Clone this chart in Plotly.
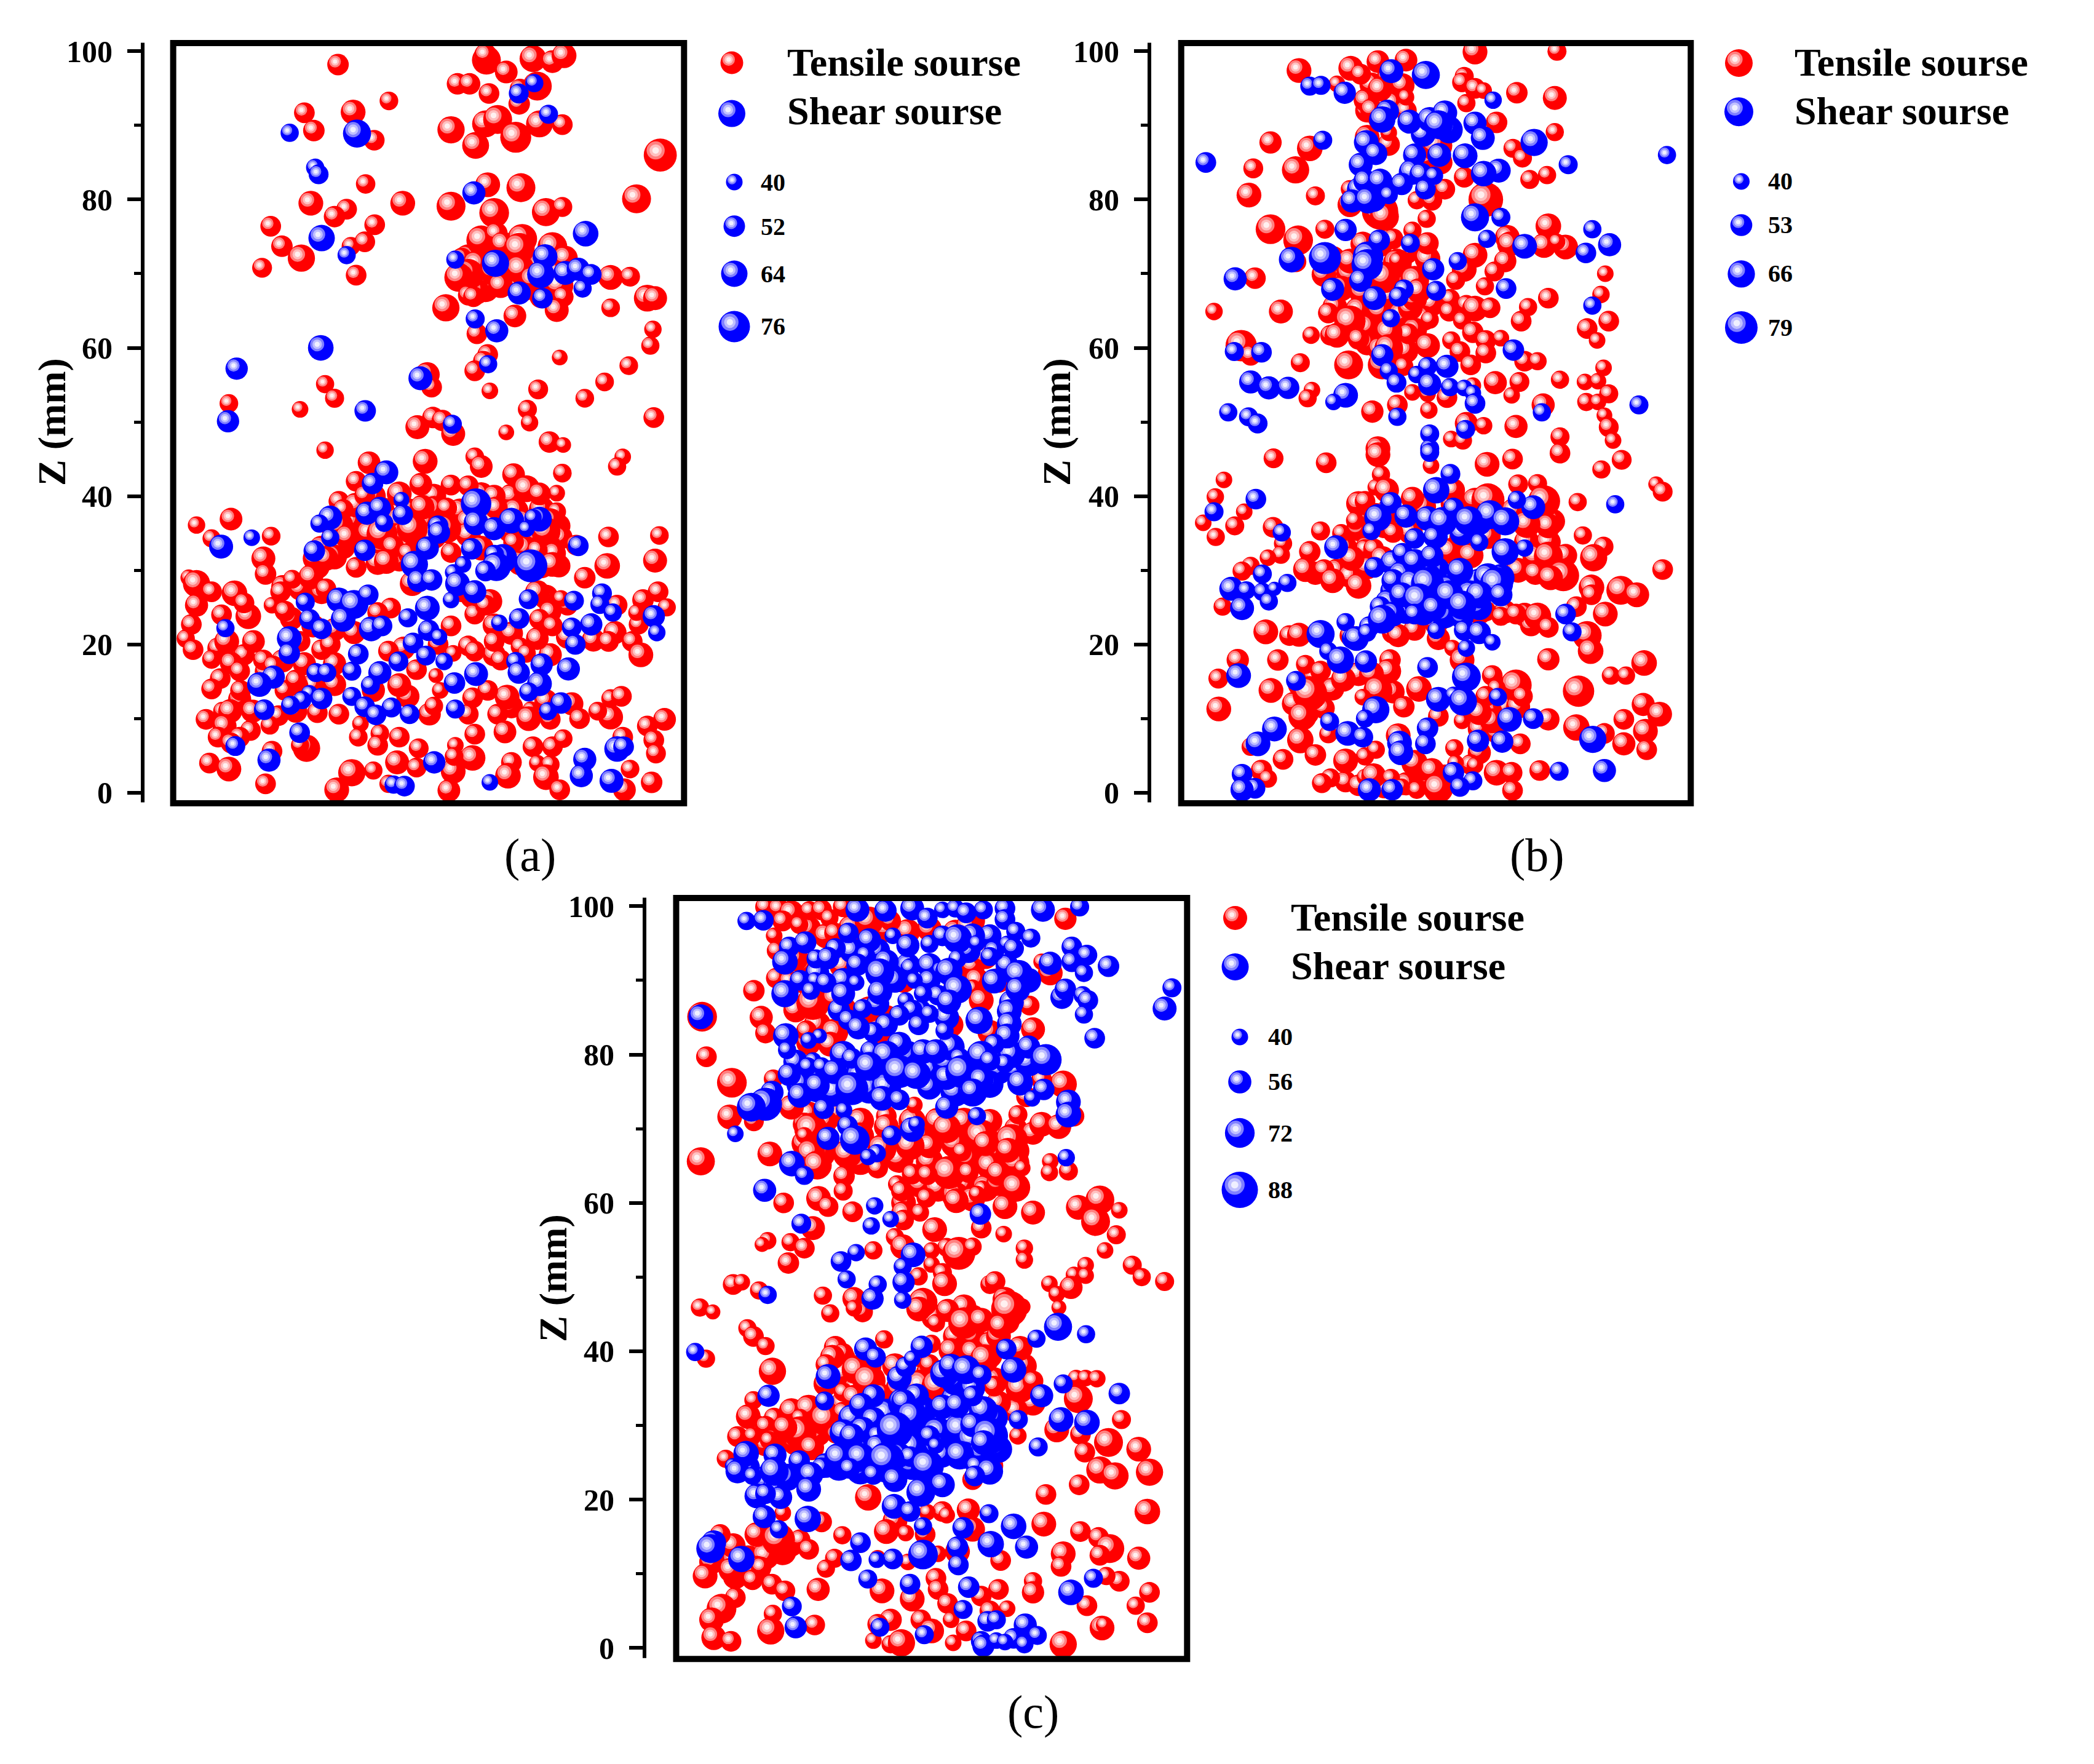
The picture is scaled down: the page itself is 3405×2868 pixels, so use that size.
import plotly.graph_objects as go

W, H = 3405, 2868
Z_TICKS = [0, 20, 40, 60, 80, 100]
TENSILE, SHEAR = "Tensile sourse", "Shear sourse"
SIZE_LABELS_A = [40, 52, 64, 76]
SIZE_LABELS_B = [40, 53, 66, 79]
SIZE_LABELS_C = [40, 56, 72, 88]

# each point: (horizontal position on the hidden axis, Z in mm, size value)
# *_core lists are the spheres buried in the dense clusters (positions estimated)
a_tensile_core = [
(780,40,60),(840,40.3,60),(920,40,60),(1030,40.2,60),(1100,40,60),(720,38,60),(800,38.2,60),(860,38,62),(920,38.3,62),
(980,38,60),(1030,38.2,60),(1110,38,62),(1170,38.2,62),(730,36.6,62),(780,36.4,60),(840,36.8,62),(900,36.6,60),
(1000,36.6,60),(1060,36.8,62),(1130,36.5,62),(1210,36,56),(690,35,60),(770,35,62),(850,34.8,62),(920,34.6,62),(1000,34.8,60),
(1150,34.8,62),(1215,34.4,56),(660,33,60),(710,33.2,60),(800,33.2,60),(860,33.6,60),(1030,33,60),(1130,33,62),(1190,33,60),
(650,30.5,60),(690,31.8,60),(790,31,58),(840,31.4,56),(1120,31,60),(1170,30.6,60),(1210,30.6,56),(570,27.8,56),(610,27.5,56),
(660,27,56),(1010,26.5,60),(1050,25.8,60),(1180,26.4,60),(1190,24.4,54),(590,23.5,56),(640,22.5,56),(690,22,56),(735,21.6,56),
(1060,22.6,56),(1100,21.5,56),(1230,21,56),(1290,20.6,56),(1340,21.6,56),(420,19.5,52),(480,18.6,52),(530,16.4,52),(570,17.8,56),
(620,17.4,56),(690,17.4,56),(850,19.5,56),(930,20,50),(1000,19.8,50),(1060,18.6,56),(1190,18.6,56),(640,14.5,56),(690,14.6,56),
(780,13.8,56),(860,13,56),(1010,12.8,50),(1100,11.6,56),(1180,12.4,56),(1240,12,56),(470,12.6,56),(500,11,56),(560,10.4,50),(600,11,56),
(1000,72,70),(1050,72,70),(1100,72,70),(1170,71,70),(1040,68,66),(1170,67,60),(1200,70,70),(1020,67.6,62),(1130,68,60),
]
a_tensile = [
(698,98.2,52),(1042,98.8,70),(1040,99.5,55),(1088,97.2,55),(1150,99,65),(1195,98.6,55),(1222,99.4,60),(1120,94.9,50),
(975,95.6,52),(1003,95.6,52),(1048,94.3,50),(1160,95.3,70),(1118,92.9,52),(816,93.3,45),(620,91.7,50),(733,91.8,60),
(642,89.3,52),(782,88,50),(960,89.4,66),(1017,87.3,65),(1040,90.2,65),(1068,90.8,70),(1110,88.4,75),(1165,90.2,65),
(1218,90.1,50),(1445,86,80),(1045,82,60),(1122,81.6,70),(762,82.1,47),(635,79.5,60),(848,79.5,60),(960,79.1,70),
(1060,78.2,72),(1180,78.3,68),(1218,79,48),(1390,80.1,70),(718,78.7,50),(690,77.7,52),(783,76.6,50),(542,76.4,50),
(568,73.7,52),(613,72.1,66),(728,73.7,45),(760,74.3,50),(522,70.8,48),(740,69.8,50),(1030,74.5,72),(1065,75.4,55),
(1080,74,60),(1125,74.7,72),(1118,73.4,75),(1195,73.6,72),(1225,72.1,60),(985,72.1,50),(1020,71.2,70),(1000,69.9,75),
(978,69.5,70),(1060,70.3,70),(1075,68.4,60),(1120,70.6,70),(1150,69.2,65),(1210,68.4,70),(1220,66.9,50),(1000,67.1,50),
(1012,66.9,50),(1330,69.5,60),(1375,69.6,48),(1415,66.7,65),(1433,66.7,58),(1330,65.4,45),(1205,65.1,58),(1108,64.3,55),
(948,65.4,66),(1020,61.9,50),(1428,62.5,42),(1422,60.3,44),(1212,58.7,38),(1045,59.1,50),(1035,58.2,50),(1015,56.9,50),
(905,56.4,60),(915,54.7,50),(1050,54.2,40),(1162,54.4,48),(1372,57.6,45),(1316,55.4,45),(1270,53.2,45),(1137,51.7,46),
(1142,49.9,42),(1430,50.6,50),(668,55.1,44),(690,53.2,46),(445,52.5,45),(610,51.7,40),(918,50.6,52),(940,50.2,52),
(882,49.3,58),(965,48.4,58),(1088,48.6,38),(1188,47.3,52),(1220,46.9,38),(668,46.2,42),
(1015,45.3,45),(1030,44,55),(1358,45.3,40),(1345,44,44),(900,44.7,60),(770,44.5,55),(1105,42.9,55),(1218,43.1,45),
(740,42,50),(890,41.6,55),(960,41.5,50),(1000,41.4,50),(1135,41,65),(1205,40.4,40),(1060,40,55),(1165,40.3,55),
(700,39.3,50),(740,38.8,60),(710,38.2,50),(760,40.1,50),(893,38.5,60),(950,38.4,50),(1065,38.4,55),(1205,37.9,45),
(1190,36.7,60),(700,36,70),(800,34.9,75),(870,35.6,75),(950,35.6,70),(1100,35.6,70),(1180,35.2,70),(720,34.5,60),
(825,33.2,55),(1105,33.8,50),(1200,32.3,55),(960,32.4,50),(1160,32.7,50),(860,32.3,50),(1250,33.4,50),(1325,34.5,50),
(1443,34.7,45),(543,34.6,45),(450,36.9,55),(370,36.1,42),(405,34.3,44),(525,31.6,58),(530,29.5,52),(1322,30.6,62),
(1433,31.3,58),(645,31.6,60),(670,31.6,60),(740,30.4,50),(810,31.2,60),(1195,30.8,60),(1270,29,52),(352,29,40),
(370,28.2,66),(405,27.1,50),(458,26.9,62),(370,25.3,56),(490,23.8,62),(480,25.6,50),(592,28.8,45),(635,29.1,60),
(565,27.1,50),(670,27.5,50),(545,25.3,40),(575,24.5,50),(428,24,50),(358,22.7,50),(345,20.8,44),(362,19.3,50),
(440,20.4,60),(502,20.4,55),(405,18,46),(450,17.5,54),(470,16.4,50),(425,15.4,50),(405,14,50),(472,13.8,50),
(525,17.9,50),(548,17.1,50),(610,20.4,50),(660,19.3,50),(680,20,50),(575,13.8,50),(605,14.5,50),(430,11,45),
(448,11,58),(392,9.9,50),(435,9,58),(420,7.5,50),(495,8.4,50),(540,9.1,45),(470,7.5,50),(450,6.7,50),(400,4,50),
(445,3.2,60),(545,5.6,50),(530,1.2,50),(625,6,66),(610,6.4,44),(650,10.8,50),(700,10.6,50),(750,9.3,40),(745,7.5,45),
(795,8,45),(790,6.4,50),(840,7.5,50),(835,4.1,58),(885,6,48),(880,3.4,48),(780,3,44),(730,2.7,66),(695,0.4,60),
(815,1.2,44),(965,2.9,60),(955,0.3,55),(1010,4.7,62),(1015,7.9,50),(970,6.4,40),(967,4.9,45),(1000,10.6,50),(910,10.6,55),
(920,11.7,45),(1090,12.9,60),(1045,13.8,50),(1068,10.6,50),(1085,8.2,55),(1145,11.2,40),(1140,10,60),(1190,9.9,50),
(1258,10,50),(1330,10.2,60),(1300,11,45),(1330,12.7,45),(1355,13,50),(1150,6.2,50),(1195,6.2,50),(1220,7.3,45),
(1160,4,40),(1190,3.8,45),(1100,4.1,50),(1092,2.3,62),(1180,2.1,62),(1212,0.4,50),(1362,0.4,55),(1358,7.5,50),
(1415,9,50),(1455,9.9,55),(1430,7.1,50),(1435,5.3,48),(1425,1.4,52),(1375,3.2,45),(1165,23.4,50),(1195,22.5,50),
(1230,25.3,50),(1160,20.8,55),(1060,20.4,50),(1015,19.1,50),(960,22.5,50),(1015,24.1,50),(1040,25.3,50),(1120,19.7,45),
(1135,18.8,45),(1075,17.9,50),(1380,20.4,50),(1400,18.6,60),(1325,20.4,50),(1395,22.7,48),(1405,26,52),(1440,27.1,50),
(1460,25,44),(1390,24.3,40),(1345,25.3,50),(1215,26.2,40),(985,27.1,50),(820,24.9,50),(790,24.3,50),(815,19.1,50),
(880,16.6,50),(840,14.5,58),(925,15.8,36),(935,13.8,40),(965,18.8,40),(600,15.2,50),(1160,27,60),(870,28.2,60),
]
a_shear = [
(586,89,44),(742,88.9,68),(645,84.3,44),(653,83.4,48),(1153,95.7,44),(1117,94.3,48),(1186,91.5,46),(1013,80.9,56),
(1272,75.4,62),(660,74.8,64),(718,72.5,44),(970,71.9,44),(1063,71.4,66),(1178,72.3,60),(1168,69.9,66),(1225,70.1,58),
(1255,70.6,56),(1285,69.9,50),(1265,68,44),(1118,67.4,56),(1172,66.7,50),(1016,63.9,46),(1066,62.3,56),(658,60,62),
(463,57.2,54),(1046,57.8,44),(889,55.9,58),(761,51.5,52),(443,50.1,54),(963,49.7,46),
(810,43.2,58),(778,41.7,52),(1018,39,74),(845,39.5,38),(680,37.1,58),(655,36.3,44),(765,37.7,56),(795,38.4,54),
(848,37.5,50),(805,36.4,44),(680,34.4,44),(930,36,50),(932,35.1,54),(1018,36.4,60),(1060,35.6,56),(1100,36.7,62),
(1165,36.9,60),(1150,37.1,42),(1135,35.6,40),(498,34.4,40),(427,33.2,58),(643,32.6,52),(760,32.7,52),(905,33,56),
(1008,32.9,52),(1255,33.3,50),(875,30.8,66),(1080,31.6,70),(1145,30.6,80),(1060,32.1,48),(1065,30.5,70),(988,30.8,40),
(965,29.7,40),(1040,29.9,50),(885,28.6,56),(915,28.7,52),(975,28.2,60),(1015,27.1,56),(960,26,40),(1140,26.1,48),
(700,26,60),(735,25.4,70),(768,26.7,50),(622,25.7,46),(710,23.4,60),(632,23.4,50),(660,22.1,50),(905,24.9,60),
(860,23.6,46),(1245,25.9,48),(1310,26.9,48),(1305,25.4,46),(1335,24.3,44),(1118,23.5,50),(1072,22.9,40),(775,22.1,60),
(800,22.5,50),(1240,22.3,48),(1285,22.7,54),(1430,23.8,54),(1437,21.6,42),(437,22.2,44),(908,21.9,52),(932,21,40),
(872,20.2,50),(1248,20,50),(585,20.8,60),(585,18.8,52),(745,18.7,50),(902,18.5,48),(838,17.7,48),(944,17.7,42),
(1110,17.7,46),(1170,17.3,54),(1232,16.7,56),(1117,16.2,54),(1165,14.7,60),(795,16.2,56),(730,16.4,46),(1018,16,58),
(968,14.8,52),(647,16.2,46),(672,16.2,46),(548,15.6,56),(516,14.6,60),(773,14.5,46),(1140,13.6,46),(1215,12.1,52),
(730,13,46),(632,13.4,40),(660,12.7,52),(615,12.5,44),(588,11.8,46),(527,11.2,50),(760,11.6,50),(822,11.5,48),
(786,10.5,50),(864,10.6,48),(970,11.3,46),(1185,11,44),(609,8.1,50),(460,6.3,48),(538,4.4,56),(921,4.1,54),
(1270,4.5,56),(1345,5.9,62),(1360,6.2,50),(1262,2.3,56),(1332,1.6,58),(827,1.1,44),(852,0.9,50),(1050,1.4,40),
]
b_tensile_core = [
(660,72,62),(700,70,66),(740,72,66),(770,74,62),(830,73,62),(880,72,62),(680,68,62),(730,67.5,66),(790,67,66),(840,67.4,66),
(890,66,62),(665,65.5,60),(720,65,66),(770,65,66),(820,64.4,66),(870,64,62),(740,62.8,62),(800,60.5,62),(850,62.4,60),
(740,60.6,58),(830,59.6,60),(770,59.8,60),(740,92,58),(770,91,60),(800,93,56),(830,92,52),(750,95.5,58),(790,96.5,58),
(880,85.6,58),(910,85,58),(790,87.4,54),(720,39,60),(760,37.4,60),(790,38,60),(870,38.6,62),(940,39,62),(990,39.4,62),(1080,38,62),
(1130,37.4,62),(1170,36.6,60),(720,35.6,60),(780,36,60),(840,35.2,60),(960,34.4,62),(1020,34.6,62),(1110,33.8,62),(1160,33.8,60),
(690,33,58),(740,33,58),(930,32.6,62),(980,32,62),(1130,31.8,62),(1200,32,56),(620,29.6,56),(670,30,56),(700,29.2,56),(740,30.4,58),
(1090,30,60),(1130,29.6,56),(1000,24.3,58),(1060,24.4,56),(1105,24,58),(1120,22.6,54),(900,22.8,56),(800,21.6,54),(850,22,54),
(585,14.6,60),(620,15.6,60),(660,14,56),(720,16,58),(760,15.4,58),(800,13.6,56),(570,12,58),(600,10.8,60),(640,11.4,52),(1000,8.6,56),
(1040,9,56),(1000,5.4,56),(980,3.8,50),(1040,8,50),(880,2,58),(920,2.2,58),(860,3,54),(690,1.5,52),(720,1,52),(780,0.8,56),(830,1.2,56),
(1060,11.6,60),(1090,11.6,58),(1025,11,58),
]
b_tensile = [
(582,97.4,60),(702,97.7,60),(725,96.9,50),(765,98.6,55),(830,98.8,55),(990,99.9,60),(1180,100,46),(670,95.6,40),
(965,96.6,46),(960,95.8,48),(990,95,50),(1010,94.7,40),(822,95.4,58),(770,94.9,60),(830,93.8,40),(1087,94.4,52),
(1175,93.7,58),(735,93.4,55),(750,92.1,55),(970,93,44),(1040,90.4,52),(1175,89.1,44),(740,88.4,60),(790,89,40),
(516,87.7,54),(607,86.9,62),(900,87.3,78),(1078,86.9,46),(1100,85.6,46),(476,84.2,48),(574,84,66),(965,83,50),
(1117,82.7,46),(1157,83.3,44),(466,80.6,60),(620,80.5,46),(920,81.4,50),(700,81.4,44),(1015,80,84),(855,79.9,44),
(890,79.9,50),(700,79.3,60),(770,78.4,88),(780,77.7,70),(878,77.4,44),(516,76,72),(580,74.5,72),(642,76,46),
(845,75.8,44),(1160,76.4,62),(1065,74.9,60),(1070,74,60),(1150,73.8,60),(1200,73.6,60),(1180,74.3,40),(880,74.1,54),
(730,74,60),(800,74.7,50),(990,72.5,60),(1060,71.7,54),(575,71.6,50),(1035,70.3,48),(480,69.4,52),(1292,70,40),
(700,71.7,60),(810,71.4,70),(640,69.9,60),(780,69.5,76),(850,69.1,70),(965,70.6,60),(945,69.1,46),(1013,68.3,44),
(810,71.8,40),(1282,67.2,42),(1160,66.7,50),(932,66.6,48),(970,65.8,48),(990,65.3,62),(1025,65.4,50),(930,64.9,48),
(1113,65.5,44),(385,64.9,42),(540,64.9,58),(1097,63.6,50),(1300,63.6,50),(885,63.8,44),(650,64.7,50),(700,63.6,76),
(840,65.4,60),(850,66.6,60),(860,67.7,60),(960,63.7,44),(985,62.1,52),(1250,62.6,50),(1273,61,40),(835,61.9,50),
(610,61.7,42),(655,61.7,50),(670,61.7,60),(720,61.2,52),(790,62.1,66),(790,59.9,70),(880,60.3,60),(935,61,44),
(1015,61,50),(1050,61.3,40),(1015,59.3,50),(448,60.3,76),(470,59,50),(775,57.7,70),(955,59.5,50),(697,57.7,70),
(585,58,46),(825,57.5,46),(980,57.7,50),(1105,58.2,50),(1135,58.2,44),(1288,57.3,40),(1187,55.7,44),(1245,55.4,40),
(1275,55.5,40),(1093,55.4,48),(1037,55.3,56),(1075,53.6,40),(985,54.9,40),(612,54.3,40),(602,53.2,44),(845,54,40),
(925,53.3,50),(880,53.8,40),(1300,53.8,46),(1248,52.7,44),(1275,52.7,40),(1148,52.3,56),(810,52.3,50),(752,51.4,54),
(883,51.6,42),(1290,50.9,38),(1300,49.3,48),(970,49.8,56),(1010,49.5,42),(1085,49.4,56),(1187,48,46),(1310,47.5,40),
(935,47.7,40),(962,47.5,44),(765,46.4,60),
(523,45.1,48),(645,44.5,50),(765,45.6,60),(1018,44.3,60),(1077,45,50),(1187,45.8,50),(1330,44.9,48),(1283,43.6,44),
(888,44.1,40),(408,42.2,40),(388,39.9,42),(772,42.9,44),(1090,41.6,48),(1135,41.7,46),(1410,41.6,38),(1425,40.6,48),
(1228,39.2,44),(760,41.2,40),(785,40.8,60),(845,39.7,56),(1020,39.5,80),(1150,39.3,78),(735,39.3,50),(712,36.7,44),
(940,40.8,56),(455,37.9,40),(433,36,46),(360,36.4,40),(522,35.8,50),(389,34.5,44),(632,35.3,46),(680,35,44),
(1240,34.7,44),(1160,36,60),(1110,36.2,66),(800,35.1,50),(1288,33.2,48),(1265,31.7,66),(1425,30.1,50),(1160,31.9,70),
(607,32.5,52),(545,33.6,44),(735,32.9,46),(755,32.9,50),(775,31.6,60),(540,32.1,44),(705,31.6,60),(510,31.7,40),
(470,30.6,44),(450,29.9,46),(597,30.1,60),(640,30.1,50),(660,28.6,60),(720,27.9,62),(1195,29.3,76),(1165,29,60),
(1260,27.7,62),(1260,26.7,50),(1328,27.3,70),(1365,26.7,60),(1225,25.1,50),(1292,24.1,60),(405,25.1,44),(505,21.7,60),
(560,21.2,50),(582,21.3,58),(700,21.2,50),(812,21.2,56),(905,20.8,56),(1015,24.5,50),(1050,23.8,46),(1085,24.1,50),
(1135,23.8,66),(1160,22.3,50),(1250,21.2,70),(1258,19.1,62),(1160,18,54),(938,19.5,40),(960,17.9,60),(1382,17.5,62),
(440,17.9,54),(533,17.9,52),(395,15.4,48),(597,17.3,46),(632,16.4,50),(517,13.8,60),(607,13.4,84),(793,17.9,52),
(790,16.4,60),(750,16,60),(685,15.3,60),(765,13.8,70),(730,12.9,40),(860,14,62),(1030,15.8,50),(1085,14.5,76),
(1040,14.1,44),(1100,13,50),(1015,13,50),(1230,13.7,76),(1305,15.8,44),(1340,15.8,44),(396,11.3,60),(825,11.6,52),
(1380,11.9,56),(1418,10.6,60),(905,10.3,50),(1160,9.9,54),(1030,9.7,60),(1000,10.8,60),(590,10.3,68),(1225,8.8,64),
(1335,9.9,50),(1385,8.3,60),(1290,8,50),(585,7.1,64),(960,9.7,40),(650,7.9,44),(1335,6.6,56),(1388,5.8,50),
(1095,6.6,50),(942,6,44),(812,7.7,60),(470,6.2,44),(620,5.1,52),(545,4.5,50),(690,4.3,60),(735,4.9,44),(760,5.8,44),
(850,4,64),(890,3,60),(495,3,52),(510,1.9,44),(1140,3,50),(1040,2.7,62),(1075,2.7,52),(945,4,40),(990,3.7,40),
(655,2,46),(635,1.3,48),(735,2.1,40),(755,2.3,60),(795,2,44),(855,0.4,44),(905,0.6,72),(1077,0.3,50),(820,0.8,40),
]
b_shear_core = [
(800,31,62),(850,30.6,66),(900,30,66),(950,28.6,66),(1000,28.4,66),(1050,29,66),(820,29.4,66),(880,29,70),(930,27.4,70),(980,26.8,66),
(1040,27.6,66),(800,27.2,62),(840,26.6,70),(890,26.4,70),(940,25.6,70),(1000,25,62),(790,25.6,66),(830,24.6,66),(870,24.4,66),(920,24,66),
(960,23.6,56),(780,24,66),(900,34.5,56),(880,37,60),(1000,36.4,60),(960,35,60),(745,22.4,50),
(745,82,56),(755,80,60),(720,81.4,56),(850,86,56),(870,88.8,60),(930,89.4,66),
]
b_shear = [
(796,97.3,58),(876,96.8,68),(607,95.3,46),(633,95.4,46),(688,94.4,54),(1032,93.4,42),(787,91.9,56),(775,90.8,64),
(838,90.5,58),(885,90.8,60),(920,91.7,60),(905,90.1,70),(990,90.3,56),(1008,88.3,58),(1127,87.7,66),(637,88,46),
(738,87.7,60),(760,86.2,56),(907,86,58),(967,85.9,60),(1206,84.7,46),(1435,86,44),(366,85,50),(725,84.7,58),
(1045,83.9,58),(1010,83.5,62),(843,83.7,62),(865,83.4,56),(895,83.2,44),(735,82.5,56),(770,82.5,60),(820,82.1,54),
(875,81.4,50),(790,80.6,44),(705,79.8,56),(742,79.9,64),(990,77.6,68),(1050,77.6,46),(690,75.9,54),(1262,76,44),
(768,74.5,52),(1018,74.7,44),(840,74.1,46),(1105,73.7,60),(1302,73.9,56),(1247,72.8,50),(565,71.9,62),(642,72.1,78),
(742,72.3,74),(740,71.2,76),(893,70.6,54),(950,71.7,44),(434,69.3,56),(725,69.1,56),(660,67.9,56),(825,67.9,48),
(813,66.9,48),(900,67.7,48),(1062,68,50),(757,66.7,58),(1262,65.7,44),(795,64,44),(1079,59.7,52),(775,59,54),
(495,59.4,50),(432,59.5,46),(925,57.5,56),(880,57.5,46),(790,56.9,44),(855,56.4,42),(808,55.3,48),(885,55.1,56),
(932,54.7,44),(470,55.4,56),(512,54.6,56),(557,54.6,54),(690,53.6,60),(662,52.7,40),(965,54.6,40),(985,53.9,40),
(990,52.5,50),(1370,52.3,46),(1145,51.3,44),(418,51.3,44),(465,50.7,46),(486,49.8,48),(810,50.7,44),(968,49,46),
(885,48.4,46),(885,46.4,46),
(885,45.9,46),(933,43,48),(900,40.8,64),(482,39.6,50),(385,37.9,46),(1315,38.9,44),(1125,38.5,58),(1087,39.5,44),
(795,39.1,52),(765,37.1,66),(830,37.3,56),(750,35.3,44),(915,36.6,70),(940,38.4,50),(1025,37.5,70),(975,36.7,70),
(1060,36.6,68),(1000,33.8,44),(542,35.1,44),(850,34.3,50),(895,34.5,52),(1105,33,42),(1060,32.5,66),(668,33.1,58),
(822,32.3,50),(850,31.2,60),(890,31.9,56),(757,30.4,50),(497,29.5,46),(955,29.9,64),(1020,29,70),(1040,28.2,80),
(800,28.6,56),(845,28.2,70),(880,28.2,80),(555,28.3,44),(425,27.5,58),(460,27.3,44),(497,27.1,44),(525,27.5,34),
(1000,26.7,66),(1050,26.7,56),(930,26.7,70),(820,26.7,60),(860,26,80),(960,25.3,70),(450,24.9,58),(512,25.8,44),
(770,25.1,50),(800,24.1,60),(775,23.4,70),(850,24.1,50),(895,24.9,60),(1200,24.1,50),(690,23,44),(1215,21.7,46),
(632,21.4,68),(705,20.8,50),(715,20.8,60),(740,21.6,44),(900,21.9,42),(965,21.9,50),(1000,21.6,56),(1030,20.3,40),
(970,19.5,42),(650,19.1,44),(678,17.9,66),(737,17.7,54),(880,16.9,50),(442,15.8,60),(575,15.1,48),(970,15.6,70),
(905,12.6,60),(940,13.2,40),(962,12.3,68),(1043,12.9,44),(760,11.2,66),(735,10,44),(653,9.6,46),(525,8.6,60),
(1070,9.9,60),(1125,10,50),(695,8,60),(730,7.5,50),(880,8.7,52),(815,6.7,60),(818,5.4,60),(875,6.6,50),(997,7,54),
(1053,6.9,54),(487,6.6,60),(1263,7.2,66),(1185,2.9,46),(1290,3,56),(450,2.5,50),(480,0.6,50),(450,0.4,56),(940,2.7,52),
(985,1.6,46),(955,0.8,48),(745,0.4,56),(798,0.4,52),
]
c_tensile_core = [
(620,97,60),(660,96,60),(720,97,66),(800,97,66),(850,96.6,60),(960,96.5,60),(1000,98,60),(570,94,60),(610,92,60),(700,92,66),(840,90,60),
(1000,92,60),(600,90,60),(640,88,66),(700,86,66),(760,86,66),(800,85,60),(960,90,60),(1010,90,60),(590,86,60),(640,84,66),(620,81.6,60),
(680,83,66),(1040,83,60),(780,86,60),(950,84,60),(1060,90,60),(620,72,60),(680,72,62),(740,71,66),(860,71,66),(920,71,66),(980,71,66),
(610,68,62),(660,68.6,66),(740,69,66),(820,68.6,70),(880,69,70),(960,68,70),(1050,67,70),(1100,67,66),(650,66.6,66),(740,65.6,66),
(830,66,70),(900,65.6,66),(990,66,66),(1040,65,66),(1100,65.4,66),(880,62.5,66),(920,62,66),(980,62.4,70),(1030,62,66),(1060,62.6,60),
(960,61,66),(1000,60.5,60),(840,60,60),(840,58.6,60),(610,70.6,56),(660,71,56),(1100,70,56),(1140,69.4,56),
(700,39,60),(760,39,66),(820,38,62),(950,37,66),(1040,39.4,60),(1120,38,60),(700,37,60),(760,38,60),(830,35,66),(900,37,66),(980,34,66),
(1050,36,66),(1110,34,66),(1140,33,60),(1100,32,60),(1060,33,60),(700,33,60),(730,35,60),(790,33,60),(660,35.6,60),(640,32,62),
(600,30,70),(640,29,66),(560,29,66),(590,27.8,66),(520,27.4,56),(480,27,50),(500,30,50),(580,32,60),(680,31,60),
(960,42,60),(1000,42,60),(1040,41,60),(1080,44,60),(1060,42,60),(910,44.6,60),(1000,44.6,60),(880,46,60),(980,46,60),
(450,11.8,66),(480,12,66),(520,12.4,66),(560,13,66),(500,10.6,66),(450,9.6,60),(580,14,60),
]
c_tensile = [
(520,99.9,50),(550,99.7,50),(580,99.1,60),(622,99.4,46),(650,99.5,50),(668,98.4,44),(700,99.9,50),(560,98,50),
(598,97.5,44),(760,98,70),(810,98,50),(1215,98.3,54),(680,96.4,50),(540,96,40),(900,96.9,60),(990,97.3,60),
(545,94,46),(1030,93.2,60),(590,92.9,60),(1160,92.5,40),(1180,91,60),(545,90.3,50),(575,89.9,50),(493,88.6,52),
(1000,89,40),(630,86.9,80),(680,87.6,60),(1020,87.3,60),(1132,86.6,48),(510,85,56),(520,82.9,50),(373,85.1,72),
(615,83.2,50),(670,81.4,60),(785,83.2,60),(1140,83.4,58),(383,79.7,50),(442,76.2,72),(538,76.7,46),(1210,76,66),
(1160,76.6,50),(1125,74.3,50),(437,71.6,60),(493,71,48),(580,72.9,60),(865,73.2,40),(800,71.7,50),(1105,71.9,46),
(1160,70.6,60),(1200,70.3,60),(1235,71.7,50),(625,69.9,80),(610,69.1,40),(800,70.3,60),(940,70,70),(1040,71,60),
(1020,69,80),(1090,68.4,80),(900,67.7,60),(855,67.7,70),(790,67.3,70),(710,66.6,70),(625,66.7,70),(530,66.6,60),
(1082,67.1,60),(975,66.9,46),(1030,68,60),(370,65.6,68),(640,65.1,70),(780,64.7,50),(1180,65.6,40),(1222,64.3,46),
(1178,64.1,42),(1115,64.7,40),(945,64.1,80),(990,64.1,50),(1060,64,60),(860,63.9,50),(702,63.6,52),(895,63.8,50),
(1100,62.1,70),(825,62.5,44),(835,61.6,50),(700,61.6,46),(1022,61.9,40),(893,60.7,48),(962,60.3,60),(1010,61.2,40),
(1075,59.5,60),(643,60.6,60),(665,59.5,50),(562,60,50),(722,58.8,50),(1140,58.7,58),(1245,59.4,60),(1295,60.4,70),
(1340,59,40),(1285,57.5,70),(878,58.7,44),(840,57.7,50),(630,56.6,58),(1020,56.6,50),(912,56.4,60),(1072,55.8,40),
(1333,55.7,46),(525,54.9,42),(512,54.4,36),(578,54.7,44),(610,53.9,50),(820,55.4,44),(838,54.1,60),(770,53.6,44),
(905,53.6,40),(940,54,46),(968,53.2,80),(1000,54.1,44),(1120,53.9,42),(1120,52.3,42),(1307,53.6,40),(573,51.9,52),
(905,51.7,40),(1370,51.6,46),(1262,51.6,40),(1392,50,44),(1445,49.4,46),(875,50.1,44),(930,50.6,46),(935,49.1,60),
(445,49,50),(465,49.3,40),(1040,49,46),(1052,49.4,50),(1178,49.1,40),(1235,50.3,40),(1262,50.2,40),(1228,48.6,56),
(1195,47.7,40),(505,48.2,44),(653,47.5,44),(725,47.1,56),(1075,47,60),(1115,46,40),(885,46.6,70),
(368,45.9,44),(398,45.3,36),(670,45.1,44),(745,45.3,50),(725,45.8,40),(875,45.7,60),(942,45.5,56),(1085,45.7,88),
(1200,45.9,36),(915,43.8,44),(980,43.8,76),(1020,44.2,60),(1065,43.4,60),(478,43.1,44),(492,42,50),(520,40.7,44),
(382,39,44),(795,41.6,44),(682,40.5,56),(700,39.7,50),(675,39.2,60),(660,38.2,50),(905,41,44),(950,40.1,60),(1000,39.9,60),
(1028,39,70),(1110,40.4,60),(536,37.3,66),(730,37.5,70),(760,36,80),(875,39,40),(900,38.2,50),(1240,36.4,40),(1262,36.4,40),
(1288,36.3,42),(1245,33.6,70),(1050,35.3,50),(1110,35,70),(1140,36,50),(700,34.5,46),(725,33.8,60),(790,34.5,40),(880,35.3,80),
(920,35.3,80),(492,33.4,44),(620,32.3,66),(660,30.8,80),(700,31.8,50),(480,31.2,60),(540,31,50),(520,29.9,50),(600,31,44),
(600,29,80),(540,27.9,60),(565,29.7,60),(1345,30.8,46),(1105,28.6,42),(455,28.5,50),(490,28.6,44),(682,28.8,44),
(528,28,44),(1195,29.4,60),(1250,28.8,50),(1315,27.7,70),(1260,26.4,50),(1385,26.8,60),(627,27,60),(428,25.5,44),
(1295,24,66),(1330,23.2,66),(1410,23.7,66),(1047,24.6,50),(1000,22.7,50),(1247,22,50),(1170,20.7,50),(758,20.3,64),
(1405,18.4,62),(1165,16.7,60),(930,18.4,50),(990,18.6,56),(895,18.3,40),(650,17,50),(560,18.2,40),(940,17.9,40),
(820,17.1,60),(800,15.7,60),(845,15.5,40),(890,15.3,50),(1000,16,60),(698,15.2,44),(1250,15.7,50),(1292,14.9,50),
(1318,13.4,70),(500,15.3,60),(445,13.8,60),(415,15.3,50),(600,14.6,50),(620,13.3,50),(550,14.6,80),(1210,12.7,60),
(1385,12.1,56),(1295,12.5,50),(680,12.1,46),(1205,11,50),(965,13,60),(395,11.6,60),(510,10.9,50),(380,9.7,60),
(440,10.5,60),(660,10.7,44),(780,12.1,40),(920,12.7,40),(850,11.6,40),(1065,11.8,50),(490,9.2,50),(535,8.6,50),
(565,7.7,50),(642,7.9,56),(1140,9,44),(1140,7.5,54),(1340,9,50),(1310,9.7,44),(915,9.4,50),(920,7.9,50),(1060,7.9,50),
(790,7.7,60),(1410,7.5,50),(1265,5.7,50),(860,6.6,60),(942,6,50),(1020,7,50),(1080,5.3,40),(450,6.8,50),(418,5.3,72),
(395,3.8,60),(537,4.6,44),(1378,5.7,44),(1405,3.4,50),(532,2.3,66),(634,3.1,50),(400,1.4,60),(440,0.9,50),(810,3.8,54),
(780,3.2,50),(880,3.8,50),(905,2.3,60),(950,3.8,40),(985,2.3,50),(770,1,40),(810,0.5,44),(835,0.7,66),(955,0.7,40),
(1210,0.5,66),(1300,2.7,60),(1305,3.1,40),(1040,5,50),
]
c_shear_core = [
(620,78,70),(660,77,72),(700,78,72),(740,77,72),(780,77,76),(820,78,76),(860,78,76),(900,78,72),(940,79,72),(980,78,76),(1020,78,76),(1060,78,72),
(600,76,66),(640,75.5,70),(680,75,72),(760,75.4,72),(800,75.6,72),(900,75.6,60),(960,75,72),(1000,75,72),(1040,76,66),(1100,78,66),(1130,79,70),
(700,80,66),(850,80,66),(950,81,66),(1090,80,66),(590,79,60),
(640,91,58),(700,90,60),(720,94,60),(780,94,60),(850,92,60),(900,92,60),(990,94,60),(1040,96,56),(1000,96,60),(780,86.8,56),(820,90,60),(900,90,54),
(940,85,60),(920,88,50),(800,84,56),(1080,92,56),(1050,94,50),(1130,90,60),(1090,87,60),(690,86,54),(770,83,50),(880,86,50),(600,90,50),
(760,31,70),(800,31.5,76),(840,33,76),(880,32,76),(960,33.5,70),(1000,31.5,72),(720,31,66),(700,29,66),(760,29,72),(800,29,76),(850,28.5,80),(920,29,76),
(970,29.5,76),(1000,28,76),(740,26.5,72),(800,27,76),(860,27,76),(920,27,72),(980,26,66),(690,24.5,70),(740,24,70),(800,24.4,76),(860,24.6,70),(930,26,60),
(1030,31,66),(1060,26.8,66),(1020,26.4,62),(600,24,60),(660,24.6,60),(520,22.6,70),(570,23,66),(480,24.4,56),(540,21.6,56),
(1050,31,66),(960,36,70),(1000,35,60),(870,34,60),(770,34,56),
]
c_shear = [
(476,98,44),(515,98.1,50),(733,99.5,58),(798,99.4,54),(860,99.7,58),(895,98.4,50),(930,99.5,40),(960,99.7,44),
(985,99.1,50),(1025,99.5,46),(1075,99.7,50),(1075,98.2,50),(1163,99.5,58),(1248,99.9,46),(712,96.4,50),(760,95.4,58),
(575,94.5,50),(612,95.1,54),(815,96,40),(850,94.7,56),(900,94.9,44),(930,96,50),(965,95.6,70),(1010,95,40),
(1100,96.6,46),(1135,95.7,46),(1080,94.9,40),(1095,94.3,50),(682,94.3,50),(1230,94.5,50),(565,92.5,62),(637,92.9,46),
(665,93,54),(752,93.4,46),(1040,93.2,46),(965,92.9,44),(1180,92.3,56),(1265,93.4,50),(1230,92.5,50),(1315,91.9,52),
(733,92.1,54),(800,92.5,60),(785,91,70),(855,91.7,46),(865,90,40),(925,91.4,40),(945,91.2,66),(1107,90.8,70),
(1258,91,44),(635,90,40),(660,89.7,50),(565,88.2,66),(625,88.6,44),(700,88.2,58),(785,88.4,60),(730,89.7,40),
(885,88.2,44),(965,88.8,70),(1050,89.9,60),(1105,88.8,60),(1207,87.7,56),(1215,88.8,52),(1255,88,44),(1267,87.3,50),
(1462,89,46),(1445,86.2,58),(1258,85.4,44),(945,87.1,60),(845,87.3,40),(860,86,50),(745,86.2,46),(830,85.3,50),
(900,85.5,44),(370,85.1,60),(712,84.7,50),(735,83.6,56),(875,84,50),(1015,84.6,66),(1085,85.8,60),(1085,84.1,60),
(935,83.2,44),(1283,82.2,50),(567,82.5,62),(645,82.5,36),(620,81.9,40),(1080,82.5,60),(570,80.6,44),(830,81.4,60),
(1130,81,56),(765,80.4,54),(885,80.4,60),(1050,81.4,50),(1170,79.3,76),(1020,79.9,70),(970,79.5,50),(915,80.4,60),
(800,79.9,70),(720,79.5,50),(630,79.2,40),(575,77.3,56),(618,78.4,44),(650,78.4,44),(680,77.7,60),(760,78.4,70),
(830,77.7,80),(870,77.3,70),(940,76.9,60),(975,77.7,80),(1020,76.6,60),(1075,78.8,46),(1040,79.2,50),(1110,76.2,62),
(1165,75.3,52),(1138,74.1,40),(720,75.4,80),(640,75.8,60),(600,74.5,60),(535,74.9,56),(520,73.3,80),(487,72.9,70),
(790,74.1,60),(830,73.9,50),(1000,75.1,60),(655,72.7,50),(940,72.9,56),(702,72.5,40),(1010,71.7,44),(1222,73.6,60),
(1222,71.9,62),(710,70.4,50),(665,68.7,56),(727,68.5,72),(812,69.1,48),(860,69.9,60),(870,70.6,40),(450,69.3,40),
(778,66.7,44),(758,66.2,40),(581,65.3,62),(610,63.7,46),(1217,66.1,42),(518,61.7,56),(773,59.6,42),(1018,58.5,52),
(603,57.2,48),(765,56.9,42),(810,57.8,40),(862,53,60),(838,51.4,44),(695,52.1,50),(730,53.3,42),(840,49.3,54),
(708,49.7,44),(780,49,44),(768,47.1,54),(525,47.6,44),(838,46.9,42),
(357,39.9,44),(1198,43.3,68),(1263,42.3,44),(1148,41.7,44),(752,40.3,56),(775,39.2,50),(882,40.6,54),(1078,40.3,50),
(1095,37.5,62),(665,36.6,60),(830,36.4,60),(845,37.9,50),(860,39,40),(935,37,70),(950,38,60),(985,37.5,70),
(1020,36.8,50),(527,34,54),(1160,34,56),(1210,35.6,46),(657,33.3,46),(1340,34.3,52),(742,32.7,60),(840,33.2,60),
(770,30.8,60),(860,31.2,76),(930,32.5,60),(965,32.7,60),(1025,32,70),(1000,34,50),(1106,30.8,46),(1205,30.8,60),
(1265,30.4,62),(745,29.5,60),(720,28.6,60),(780,28.6,50),(900,28.6,50),(1000,30.1,60),(1040,28.6,88),(820,29.4,88),
(780,27.1,60),(1152,27.1,46),(915,27.3,40),(970,26,70),(1025,27.7,60),(475,26.2,62),(542,26,56),(598,25.2,52),
(690,25.7,70),(740,25.7,70),(830,26,60),(855,25.8,50),(800,25.3,88),(650,24.3,50),(445,24.5,40),(455,23.8,58),
(490,23.2,44),(540,23.8,70),(625,23.4,60),(715,24.2,50),(770,23.4,50),(895,24.5,80),(1008,24.5,50),(1040,23.8,64),
(1005,23.2,50),(820,22.7,60),(930,22,60),(620,21.4,60),(880,21,70),(555,20.3,56),(500,20.5,60),(520,20.8,50),
(818,19.1,60),(855,18.4,50),(1038,18.1,46),(517,17.7,56),(618,17.4,64),(885,16.4,44),(978,16.2,52),(551,16,44),
(1095,16.4,62),(740,14.2,50),(1042,14,64),(1125,13.6,56),(400,14.2,60),(393,13.4,70),(464,12,64),(885,12.6,72),
(815,12,50),(778,11.9,40),(718,11.8,52),(965,13.6,52),(967,11.2,50),(1280,9.4,46),(757,9.3,46),(855,8.6,50),
(991,8.2,52),(1228,7.5,62),(581,5.6,48),(978,5.2,46),(590,2.8,54),(785,2.8,46),(888,1.8,46),(1035,3.6,50),
(1055,3.8,46),(1122,3.1,56),(1150,1.7,46),(1095,1.3,50),(1120,0.5,44),(1020,0.9,50),(1025,0.3,54),(1055,1,40),(1075,0.8,40),
]

# layout geometry, in page pixels
PANELS = [
    dict(tag="(a)", tens=a_tensile_core + a_tensile, shear=a_shear, xr=(323, 1493), left=286.6, right=1107.3, top=74.4,
         bottom=1301.4, z100=83.3, z0=1288.9, axis=232, lab=(862, 1390), title=(84, 686)),
    dict(tag="(b)", tens=b_tensile_core + b_tensile, shear=b_shear_core + b_shear, xr=(316, 1483), left=1925.7, right=2744.3,
         top=74.4, bottom=1301.4, z100=83.3, z0=1288.9, axis=1869, lab=(2499, 1390), title=(1718, 686)),
    dict(tag="(c)", tens=c_tensile_core + c_tensile, shear=c_shear_core + c_shear, xr=(320, 1490), left=1104.5, right=1925.3,
         top=1464.4, bottom=2692.8, z100=1473.3, z0=2679.4, axis=1048, lab=(1680, 2783), title=(899, 2078)),
]
LEGENDS = [
    dict(text_x=1279, base=(124, 203), kx=1190, ky=(102, 184.6), kd=(37, 44), labx=1236,
         labels=SIZE_LABELS_A, sx=1194, sy=(296, 367.7, 445, 531), sb=(311, 383, 460, 545.6)),
    dict(text_x=2917, base=(124, 203), kx=2827.5, ky=(102.5, 181.7), kd=(45, 47), labx=2874,
         labels=SIZE_LABELS_B, sx=2831.5, sy=(295, 366, 445.4, 532.6), sb=(309.4, 380.7, 459.7, 547)),
    dict(text_x=2098, base=(1514, 1593), kx=2008.5, ky=(1492.5, 1572), kd=(39, 44), labx=2061,
         labels=SIZE_LABELS_C, sx=2016, sy=(1686, 1759, 1842, 1934.6), sb=(1700.7, 1773, 1857, 1949)),
]
FONT = "Liberation Serif"
RED = ["#ff0000", "#ff8080", "#ffc0c0", "#fff0f0"]
BLUE = ["#0000ff", "#8080ff", "#c0c0ff", "#f0f0ff"]
LAYERS = [(1.0, 0.0), (0.55, 1.0), (0.37, 1.0), (0.2, 1.0)]


def diameter(v):
    return 27 + (v - 40) * 0.667


def sphere_trace(points, colors, name, xa, ya, per_x, per_z):
    """Every sphere is a stack of four circles kept in drawing order."""
    xs, zs, sz, col = [], [], [], []
    for x, z, v in points:
        d = diameter(v)
        for (frac, off), c in zip(LAYERS, colors):
            xs.append(x - off * 0.14 * d * per_x)
            zs.append(z + off * 0.14 * d * per_z)
            sz.append(d * frac)
            col.append(c)
    return go.Scatter(x=xs, y=zs, mode="markers", name=name, xaxis=xa, yaxis=ya, showlegend=False,
                      hoverinfo="skip", marker=dict(size=sz, color=col, line=dict(width=0), opacity=1))


fig = go.Figure()
shapes, notes = [], []
px = lambda v: v / W
py = lambda v: 1 - v / H
layout = {}


def note(x, y, text, size, bold=True, **kw):
    txt = f"<b>{text}</b>" if bold else text
    notes.append(dict(x=x, y=y, xref="paper", yref="paper", text=txt, showarrow=False,
                      font=dict(family=FONT, size=size, color="black"), **kw))


def base_note(x, base, text, size):
    # page position of the text baseline -> bottom of the annotation box
    note(px(x), py(base + 0.216 * size + 1), text, size, xanchor="left", yanchor="bottom", xshift=-1)


for i, p in enumerate(PANELS, start=1):
    s = "" if i == 1 else str(i)
    scale = (p["z0"] - p["z100"]) / 100
    zlo = -(p["bottom"] - p["z0"]) / scale
    zhi = 100 + (p["z100"] - p["top"]) / scale
    layout[f"xaxis{s}"] = dict(domain=[px(p["left"]), px(p["right"])], range=list(p["xr"]), visible=False,
                               anchor=f"y{s}", fixedrange=True)
    layout[f"yaxis{s}"] = dict(domain=[py(p["bottom"]), py(p["top"])], range=[zlo, zhi], anchor="free",
                               position=px(p["axis"]), side="left", tickvals=Z_TICKS, ticks="outside",
                               ticklen=25, tickwidth=6, tickcolor="black", showline=False, showgrid=False,
                               zeroline=False, ticklabelstandoff=14, automargin=False,
                               tickfont=dict(family=FONT, size=50, color="black", weight="bold"),
                               minor=dict(dtick=10, ticks="outside", ticklen=14, tickwidth=5, tickcolor="black",
                                          showgrid=False))
    per_x = (p["xr"][1] - p["xr"][0]) / (p["right"] - p["left"])
    for pts, cols, nm in ((p["tens"], RED, TENSILE), (p["shear"], BLUE, SHEAR)):
        fig.add_trace(sphere_trace(pts, cols, nm, f"x{s}", f"y{s}", per_x, 1 / scale))
    # frame and axis line
    shapes.append(dict(type="rect", xref="paper", yref="paper", layer="above", line=dict(color="black", width=10),
                       fillcolor="rgba(0,0,0,0)", x0=px(p["left"] - 5), x1=px(p["right"] + 5),
                       y0=py(p["bottom"] + 4.5), y1=py(p["top"] - 4.5)))
    shapes.append(dict(type="line", xref="paper", yref="paper", layer="above", line=dict(color="black", width=6),
                       x0=px(p["axis"]), x1=px(p["axis"]), y0=py(p["bottom"] + 3), y1=py(p["top"] - 5)))
    note(px(p["title"][0]), py(p["title"][1]), "Z (mm)", 64, textangle=-90, xanchor="center", yanchor="middle")
    note(px(p["lab"][0]), py(p["lab"][1]), p["tag"], 76, bold=False, xanchor="center", yanchor="middle")

# overlay axes for the legend keys
layout["xaxis4"] = dict(domain=[0, 1], range=[0, W], visible=False, anchor="y4", fixedrange=True)
layout["yaxis4"] = dict(domain=[0, 1], range=[H, 0], visible=False, anchor="x4", fixedrange=True)

for lg in LEGENDS:
    for (name, cols, base, ky, kd) in zip((TENSILE, SHEAR), (RED, BLUE), lg["base"], lg["ky"], lg["kd"]):
        v = 40 + (kd - 27) / 0.667
        fig.add_trace(sphere_trace([(lg["kx"], ky, v)], cols, name, "x4", "y4", 1, -1))
        base_note(lg["text_x"], base, name, 64)
    for lab, sy, sb in zip(lg["labels"], lg["sy"], lg["sb"]):
        fig.add_trace(sphere_trace([(lg["sx"], sy, lab)], BLUE, str(lab), "x4", "y4", 1, -1))
        base_note(lg["labx"], sb, str(lab), 40)

fig.update_layout(width=W, height=H, autosize=False, margin=dict(l=0, r=0, t=0, b=0, pad=0), paper_bgcolor="white",
                  plot_bgcolor="rgba(0,0,0,0)", showlegend=False, shapes=shapes, annotations=notes, **layout)
fig.write_html("out.html", config={"displayModeBar": False}, post_script="document.body.style.margin='0';")
